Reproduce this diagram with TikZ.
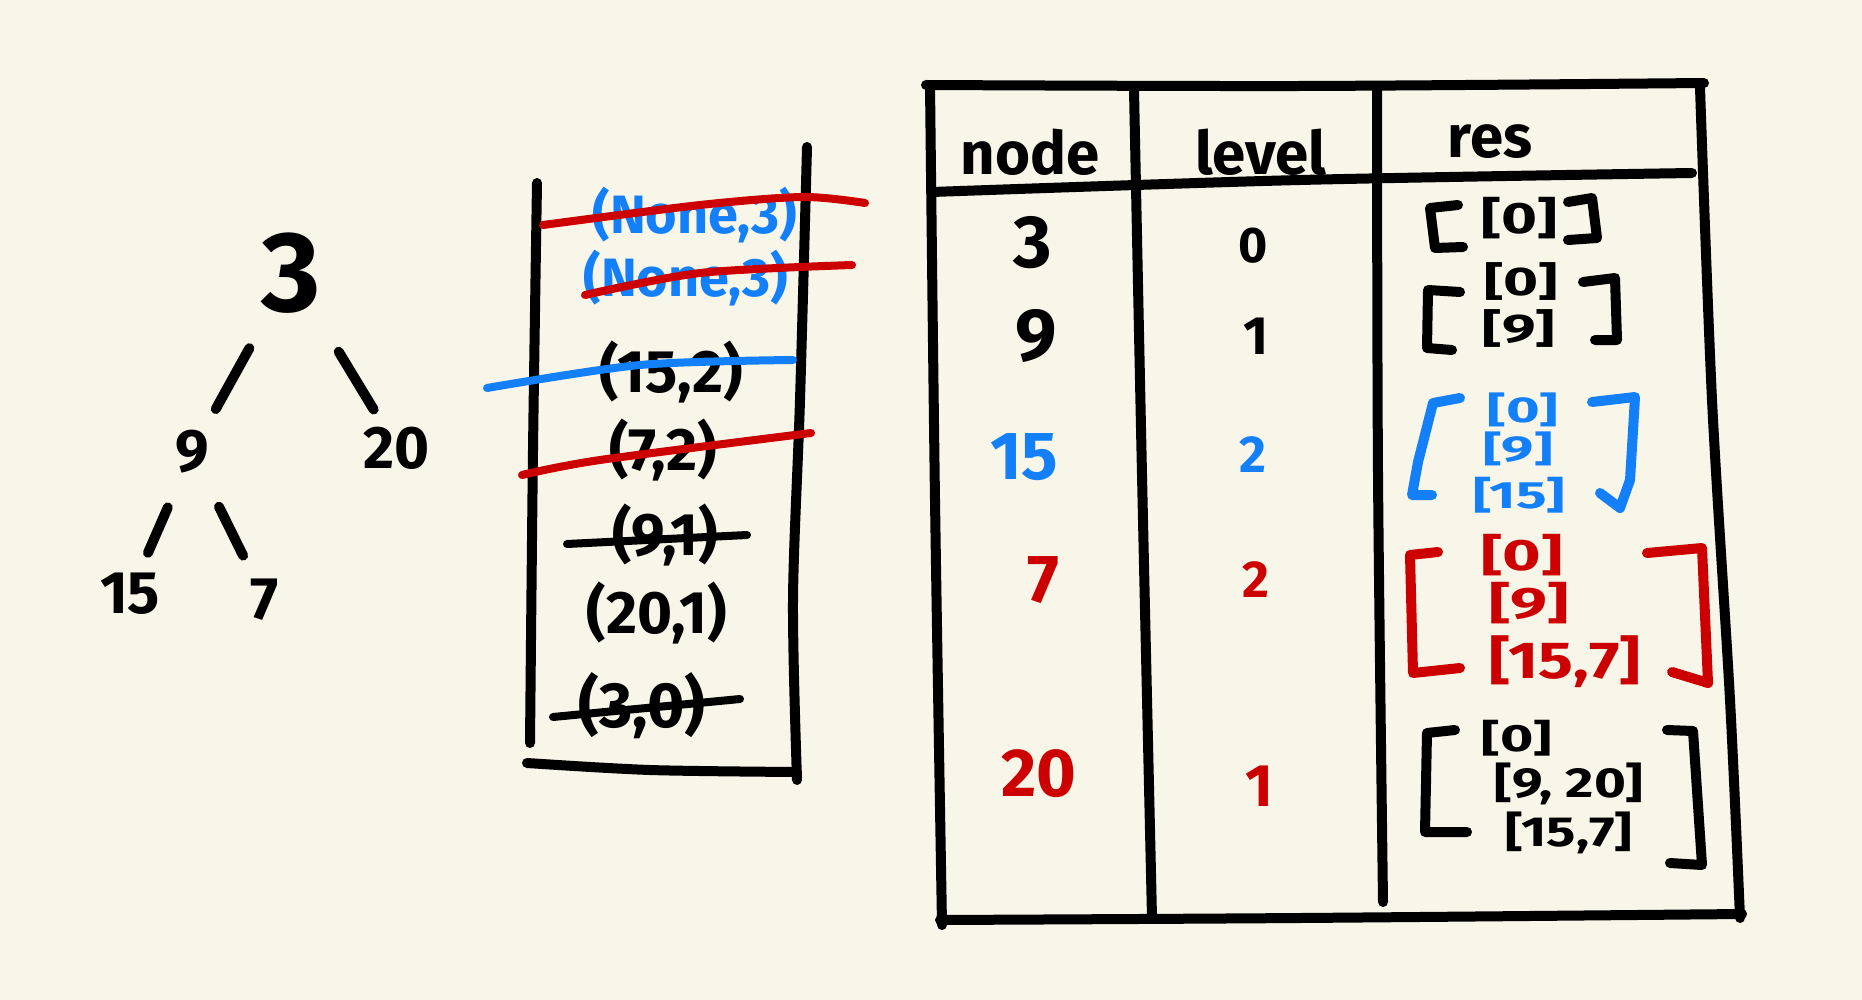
\documentclass[tikz,border=0pt]{standalone}
\usepackage{fontspec}
\setmainfont{Fira Sans}
\usetikzlibrary{calc}
\definecolor{bg}{HTML}{F8F5E9}
\definecolor{pblue}{HTML}{1380FA}
\definecolor{pred}{HTML}{CC0000}
\newcommand\myfs[1]{\fontsize{#1}{#1}\selectfont}
\newcommand\mywide[1]{\addfontfeature{FakeStretch=#1}}
\tikzset{
  pen/.style={line width=5pt, line cap=round, line join=round},
  strike/.style={line width=4pt, line cap=round, line join=round},
  tx/.style={font=\bfseries, inner sep=0pt, anchor=center},
}
\begin{document}
\begin{tikzpicture}[x=0.5pt,y=-0.5pt]
\fill[bg] (0,0) rectangle (1862,1000);
\useasboundingbox (0,0) rectangle (1862,1000);

% ---------- tree ----------
\node[tx,font=\bfseries\myfs{57}] (t3) at (291,273) {3};
\node[tx,font=\bfseries\myfs{30}] (t9) at (192,452) {9};
\node[tx,font=\bfseries\myfs{30}] (t20) at (397,448) {20};
\node[tx,font=\bfseries\myfs{30}] (t15) at (130,594) {15};
\node[tx,font=\bfseries\myfs{30}] (t7) at (265,600) {7};
\draw[pen] ($(t3.center)!0.42!(t9.center)$) -- ($(t3.center)!0.76!(t9.center)$);
\draw[pen] ($(t3.center)!0.45!(t20.center)$) -- ($(t3.center)!0.78!(t20.center)$);
\draw[pen] ($(t9.center)!0.39!(t15.center)$) -- ($(t9.center)!0.71!(t15.center)$);
\draw[pen] ($(t9.center)!0.37!(t7.center)$) -- ($(t9.center)!0.70!(t7.center)$);

% ---------- stack ----------
\draw[pen] plot[smooth] coordinates {(537,183) (533,450) (530,743)};
\draw[pen] plot[smooth] coordinates {(807,147) (800,400) (793,600) (797,780)};
\draw[pen] plot[smooth] coordinates {(527,763) (650,770) (797,772)};

\node[tx,font=\bfseries\myfs{27},text=pblue] (s1) at (695,215) {(None,3)};
\node[tx,font=\bfseries\myfs{27},text=pblue] (s2) at (686,278) {(None,3)};
\node[tx,font=\bfseries\myfs{30}] (s3) at (671,372) {(15,2)};
\node[tx,font=\bfseries\myfs{30}] (s4) at (663,450) {(7,2)};
\node[tx,font=\bfseries\myfs{30}] (s5) at (665,535) {(9,1)};
\node[tx,font=\bfseries\myfs{30}] (s6) at (657,613) {(20,1)};
\node[tx,font=\bfseries\myfs{32}] (s7) at (642,706) {(3,0)};

\draw[strike,pred] plot[smooth] coordinates {(543,225) (700,205) (803,197) (865,203)};
\draw[strike,pred] plot[smooth] coordinates {(585,295) (700,273) (852,265)};
\draw[strike,pblue] plot[smooth] coordinates {(487,388) (640,365) (793,360)};
\draw[strike,pred] plot[smooth] coordinates {(522,475) (600,460) (811,433)};
\draw[strike] (567,544) -- (747,535);
\draw[strike] (553,717) -- (740,699);

% ---------- table ----------
\draw[pen] plot[smooth] coordinates {(926,85) (1300,86) (1704,83)};
\draw[pen] plot[smooth] coordinates {(930,85) (935,500) (942,925)};
\draw[pen] plot[smooth] coordinates {(940,920) (1300,918) (1742,914)};
\draw[pen] plot[smooth] coordinates {(1700,88) (1712,400) (1730,700) (1740,918)};
\draw[pen] plot[smooth] coordinates {(1134,90) (1142,475) (1152,918)};
\draw[pen] plot[smooth] coordinates {(1377,90) (1378,475) (1383,902)};
\draw[pen] plot[smooth] coordinates {(932,192) (1300,180) (1692,173)};

\node[tx,font=\bfseries\myfs{30}] (hnode) at (1030,152) {node};
\node[tx,font=\bfseries\myfs{30}] (hlevel) at (1261,152) {level};
\node[tx,font=\bfseries\myfs{30}] (hres) at (1490,142) {res};

% column node
\node[tx,font=\bfseries\myfs{37}] (n1) at (1033,243) {3};
\node[tx,font=\bfseries\myfs{37}] (n2) at (1036,336) {9};
\node[tx,font=\bfseries\myfs{34},text=pblue] (n3) at (1024,457) {15};
\node[tx,font=\bfseries\myfs{34},text=pred] (n4) at (1043,580) {7};
\node[tx,font=\bfseries\myfs{34},text=pred] (n5) at (1039,774) {20};
% column level
\node[tx,font=\bfseries\myfs{25}] (l1) at (1253,246) {0};
\node[tx,font=\bfseries\myfs{27}] (l2) at (1256,336) {1};
\node[tx,font=\bfseries\myfs{26},text=pblue] (l3) at (1253,455) {2};
\node[tx,font=\bfseries\myfs{26},text=pred] (l4) at (1256,580) {2};
\node[tx,font=\bfseries\myfs{30},text=pred] (l5) at (1259,786) {1};

% column res
% row 1
\draw[pen] (1458,205) -- (1430,208) -- (1435,248) -- (1463,247);
\draw[pen] (1568,202) -- (1592,198) -- (1597,238) -- (1568,240);
\node[tx,font=\bfseries\myfs{22}\mywide{1.4}] (r1a) at (1519,218) {[0]};
% row 2
\draw[pen] (1460,292) -- (1428,290) -- (1427,348) -- (1452,350);
\draw[pen] (1583,282) -- (1615,278) -- (1617,340) -- (1595,340);
\node[tx,font=\bfseries\myfs{20}\mywide{1.5}] (r2a) at (1521,281) {[0]};
\node[tx,font=\bfseries\myfs{20}\mywide{1.5}] (r2b) at (1519,328) {[9]};
% row 3 (blue)
\draw[pen,pblue] (1460,398) -- (1433,403) -- (1418,462) -- (1412,495) -- (1432,495);
\draw[pen,pblue] (1592,402) -- (1635,397) -- (1630,480) -- (1620,508) -- (1600,493);
\node[tx,font=\bfseries\myfs{18}\mywide{1.6},text=pblue] (r3a) at (1523,410) {[0]};
\node[tx,font=\bfseries\myfs{18}\mywide{1.6},text=pblue] (r3b) at (1518,449) {[9]};
\node[tx,font=\bfseries\myfs{19}\mywide{1.5},text=pblue] (r3c) at (1519,495) {[15]};
% row 4 (red)
\draw[pen,pred] (1438,552) -- (1410,555) -- (1413,673) -- (1460,668);
\draw[pen,pred] (1647,553) -- (1702,548) -- (1708,683) -- (1672,672);
\node[tx,font=\bfseries\myfs{22}\mywide{1.5},text=pred] (r4a) at (1522,555) {[0]};
\node[tx,font=\bfseries\myfs{22}\mywide{1.5},text=pred] (r4b) at (1529,603) {[9]};
\node[tx,font=\bfseries\myfs{26}\mywide{1.25},text=pred] (r4c) at (1565,662) {[15,7]};
% row 5
\draw[pen] (1455,730) -- (1427,733) -- (1425,832) -- (1467,832);
\draw[pen] (1667,730) -- (1693,731) -- (1702,865) -- (1670,863);
\node[tx,font=\bfseries\myfs{19}\mywide{1.5}] (r5a) at (1517,738) {[0]};
\node[tx,font=\bfseries\myfs{21}\mywide{1.3}] (r5b) at (1569,784) {[9, 20]};
\node[tx,font=\bfseries\myfs{21}\mywide{1.3}] (r5c) at (1569,833) {[15,7]};
\end{tikzpicture}
\end{document}
